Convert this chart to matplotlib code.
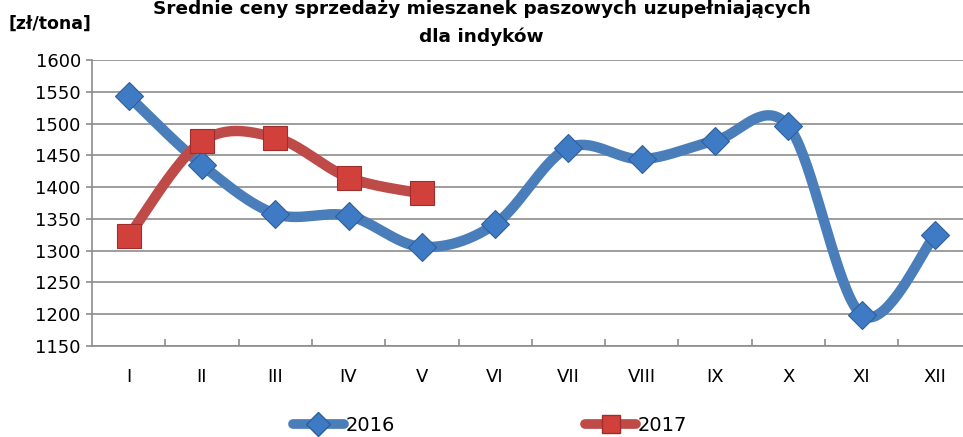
import matplotlib
matplotlib.use("Agg")
import matplotlib.pyplot as plt
from matplotlib.lines import Line2D
import numpy as np

plt.rcParams["font.family"] = ["DejaVu Sans"]

# Data
months = ["I", "II", "III", "IV", "V", "VI", "VII", "VIII", "IX", "X", "XI", "XII"]
prices_2016 = [1543, 1435, 1358, 1355, 1306, 1342, 1462, 1444, 1473, 1496, 1199, 1324]
prices_2017 = [1323, 1472, 1478, 1415, 1390]
y_ticks = [1150, 1200, 1250, 1300, 1350, 1400, 1450, 1500, 1550, 1600]

blue = "#4A7EBB"
red = "#BE4B48"


def smooth(xs, ys, n=40):
    # Excel-style smoothed line: cubic Bezier through points (Catmull-Rom control points)
    p = np.column_stack([xs, ys]).astype(float)
    ext = np.vstack([p[0], p, p[-1]])
    out = []
    t = np.linspace(0, 1, n)[:, None]
    for i in range(len(p) - 1):
        p0, p1 = ext[i + 1], ext[i + 2]
        c1 = p0 + (ext[i + 2] - ext[i]) / 6
        c2 = p1 - (ext[i + 3] - ext[i + 1]) / 6
        seg = ((1 - t) ** 3) * p0 + 3 * ((1 - t) ** 2) * t * c1 + 3 * (1 - t) * t ** 2 * c2 + t ** 3 * p1
        out.append(seg)
    out = np.vstack(out)
    return out[:, 0], out[:, 1]


fig = plt.figure(figsize=(9.63, 4.37), dpi=100)
ax = fig.add_axes([0.0955, 0.2082, 0.9135, 0.6545])

x16 = np.arange(len(prices_2016))
x17 = np.arange(len(prices_2017))

sx, sy = smooth(x16, prices_2016)
ax.plot(sx, sy, color=blue, lw=7.5, solid_capstyle="round", zorder=3)
ax.plot(x16, prices_2016, "D", ms=14.5, color="#3F7BC4", mec="#2F5F9A", mew=0.8, zorder=4)

sx, sy = smooth(x17, prices_2017)
ax.plot(sx, sy, color=red, lw=7.5, solid_capstyle="round", zorder=3)
ax.plot(x17, prices_2017, "s", ms=17, color="#D2403C", mec="#9E2E2B", mew=0.8, zorder=4)

ax.set_xlim(-0.5, 11.5)
ax.set_ylim(1150, 1600)
ax.set_yticks(y_ticks)
ax.set_yticklabels([str(v) for v in y_ticks], fontsize=13)
ax.set_xticks(x16)
ax.set_xticklabels(months, fontsize=13)
ax.set_xticks(np.arange(0.5, 11, 1), minor=True)
ax.tick_params(axis="x", which="major", length=0, pad=16)
ax.tick_params(axis="x", which="minor", direction="in", length=5, color="#8c8c8c", width=1.2)
ax.tick_params(axis="y", direction="out", length=4, color="#8c8c8c", width=1.2, pad=4)

ax.grid(axis="y", color="#8c8c8c", lw=1.2)
ax.set_axisbelow(True)
for side in ["top", "right"]:
    ax.spines[side].set_visible(False)
for side in ["left", "bottom"]:
    ax.spines[side].set_color("#8c8c8c")
    ax.spines[side].set_linewidth(1.2)

fig.text(0.5, 0.951, "Średnie ceny sprzedaży mieszanek paszowych uzupełniających\ndla indyków",
         ha="center", va="center", fontsize=13.3, fontweight="bold", linespacing=1.65)
fig.text(0.009, 0.945, "[zł/tona]", ha="left", va="center", fontsize=12.5, fontweight="bold")

handles = [
    Line2D([], [], color=blue, lw=7, marker="D", ms=12, mfc="#3F7BC4", mec="#2F5F9A", solid_capstyle="round"),
    Line2D([], [], color=red, lw=7, marker="s", ms=13, mfc="#D2403C", mec="#9E2E2B", solid_capstyle="round"),
]
fig.legend(handles, ["2016", "2017"], loc="center", bbox_to_anchor=(0.509, 0.027), ncol=2,
           frameon=False, fontsize=14, handlelength=2.6, handletextpad=0.1, columnspacing=9.8)

plt.savefig("out.png", dpi=100)
